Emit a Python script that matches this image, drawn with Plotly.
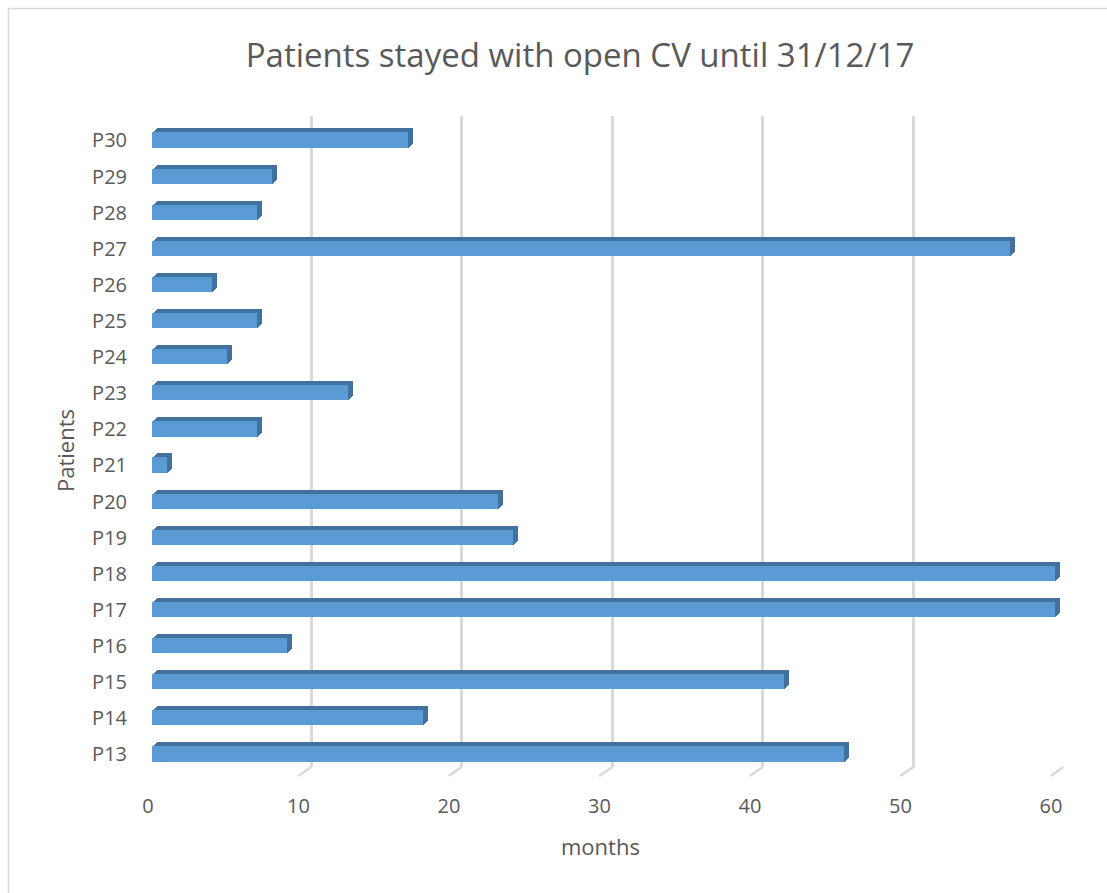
import plotly.graph_objects as go

patients = ["P13", "P14", "P15", "P16", "P17", "P18", "P19", "P20", "P21",
            "P22", "P23", "P24", "P25", "P26", "P27", "P28", "P29", "P30"]
months = [46, 18, 42, 9, 60, 60, 24, 23, 1, 7, 13, 5, 7, 4, 57, 7, 8, 17]
x_ticks = [0, 10, 20, 30, 40, 50, 60]

W, H = 1107, 893
FONT = "Open Sans"
TXT = "#595959"


def px(v):
    return v / W


def py(v):
    return 1 - v / H


FX0, FX1 = 152, 1055        # front plane, x pixels
FY0, FY1 = 122.4, 772.4     # front plane, y pixels (top, bottom)
back_x = [px(160.7), px(1063.7)]
back_y = [py(767), py(116)]
DEPTH = 5                   # bar extrusion in pixels

common = dict(automargin=False, zeroline=False, showline=False)
cat_axis = dict(range=[-0.5, 17.5], categoryorder="array",
                categoryarray=patients, showgrid=False, ticks="", **common)

fig = go.Figure()
layout_axes = {}

# back plane (grid only)
fig.add_trace(go.Scatter(x=[0, 60], y=[0, 1], mode="markers",
                         marker=dict(opacity=0), hoverinfo="skip",
                         showlegend=False, xaxis="x", yaxis="y"))
layout_axes["xaxis"] = dict(domain=back_x, range=[0, 60], tickvals=x_ticks,
                            showgrid=True, gridcolor="#D9D9D9", gridwidth=2.5,
                            showticklabels=False, ticks="", **common)
layout_axes["yaxis"] = dict(domain=back_y, range=[0, 1], showgrid=False,
                            showticklabels=False, ticks="", **common)

# extrusion layers (deepest first)
n = 2
for i in range(DEPTH, 0, -1):
    dx, dy = i, -0.8 * i
    fig.add_trace(go.Bar(y=patients, x=months, orientation="h", width=0.42,
                         marker=dict(color="#41719C", line=dict(width=0)),
                         hoverinfo="skip", showlegend=False,
                         xaxis=f"x{n}", yaxis=f"y{n}"))
    layout_axes[f"xaxis{n}"] = dict(domain=[px(FX0 + dx), px(FX1 + dx)],
                                    range=[0, 60], anchor=f"y{n}",
                                    showgrid=False, showticklabels=False,
                                    ticks="", **common)
    layout_axes[f"yaxis{n}"] = dict(domain=[py(FY1 + dy), py(FY0 + dy)],
                                    anchor=f"x{n}", showticklabels=False,
                                    **cat_axis)
    n += 1

# front face of bars
fig.add_trace(go.Bar(y=patients, x=months, orientation="h", width=0.42,
                     marker=dict(color="#5B9BD5", line=dict(width=0)),
                     showlegend=False, xaxis=f"x{n}", yaxis=f"y{n}"))
layout_axes[f"xaxis{n}"] = dict(domain=[px(FX0), px(FX1)], range=[0, 60],
                                anchor=f"y{n}", tickvals=x_ticks,
                                showgrid=False, ticks="", ticklabelshift=-4,
                                ticklabelstandoff=20,
                                tickfont=dict(size=20, color=TXT), **common)
layout_axes[f"yaxis{n}"] = dict(domain=[py(FY1), py(FY0)], anchor=f"x{n}",
                                ticklabelshift=0, ticklabelstandoff=24,
                                tickfont=dict(size=20, color=TXT), **cat_axis)

shapes = []
for t in x_ticks:
    shapes.append(dict(type="line", xref="x", xsizemode="pixel", xanchor=t,
                       x0=0, x1=-13, yref="paper", ysizemode="pixel",
                       yanchor=back_y[0], y0=0, y1=-9,
                       line=dict(color="#D9D9D9", width=2.5)))
# chart border (top and left visible)
shapes.append(dict(type="line", xref="paper", yref="paper",
                   x0=px(8), x1=1, y0=py(8.5), y1=py(8.5),
                   line=dict(color="#D9D9D9", width=1.5)))
shapes.append(dict(type="line", xref="paper", yref="paper",
                   x0=px(8.5), x1=px(8.5), y0=0, y1=py(8),
                   line=dict(color="#D9D9D9", width=1.5)))

fig.update_layout(
    template="none",
    width=W, height=H,
    margin=dict(l=0, r=0, t=0, b=0, pad=0),
    paper_bgcolor="white", plot_bgcolor="rgba(0,0,0,0)",
    font=dict(family=FONT, color=TXT, size=20),
    title=dict(text="Patients stayed with open CV until 31/12/17",
               x=px(580), y=py(55), xanchor="center", yanchor="middle",
               xref="paper", yref="paper", automargin=False,
               font=dict(size=33, color=TXT, family=FONT)),
    bargap=0,
    hovermode="closest",
    shapes=shapes,
    annotations=[
        dict(text="months", x=px(600), y=py(846), xref="paper", yref="paper",
             showarrow=False, xanchor="center", yanchor="middle",
             font=dict(size=22, color=TXT, family=FONT)),
        dict(text="Patients", x=px(65), y=py(451), xref="paper", yref="paper",
             showarrow=False, xanchor="center", yanchor="middle",
             textangle=-90, font=dict(size=22, color=TXT, family=FONT)),
    ],
    **layout_axes,
)

fig.write_html(
    "out.html",
    config={"displayModeBar": False},
    post_script="document.body.style.margin='0';"
                "document.body.style.overflow='hidden';",
)
